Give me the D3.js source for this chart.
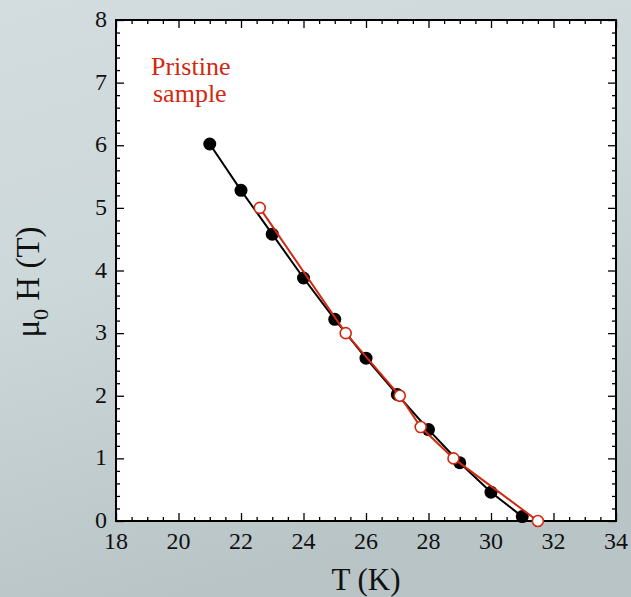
<!DOCTYPE html>
<html>
<head>
<meta charset="utf-8">
<script src="https://cdn.jsdelivr.net/npm/d3@7"></script>
<style>
  html, body { margin: 0; padding: 0; }
  svg { display: block; }
</style>
</head>
<body>
<svg id="chart" width="631" height="597"></svg>
<script>
const tempBlack = [21, 22, 23, 24, 25, 26, 27, 28, 29, 30, 31];
const fieldBlack = [6.02, 5.28, 4.58, 3.88, 3.22, 2.6, 2.02, 1.46, 0.93, 0.46, 0.07];
const tempRed = [22.6, 25.35, 27.08, 27.75, 28.8, 31.5];
const fieldRed = [5.0, 3.0, 2.0, 1.5, 1.0, 0.0];
const xTicks = [18, 20, 22, 24, 26, 28, 30, 32, 34];
const yTicks = [0, 1, 2, 3, 4, 5, 6, 7, 8];

const svg = d3.select("#chart");
const width = 631;
const height = 597;
const margin = { left: 116, right: 15, top: 20, bottom: 76 };
const plotW = width - margin.left - margin.right;
const plotH = height - margin.top - margin.bottom;
const red = "#d2280f";
const serif = "'Liberation Serif', 'Times New Roman', serif";

const defs = svg.append("defs");
const bg = defs.append("linearGradient")
  .attr("id", "bg")
  .attr("x1", "0%").attr("y1", "0%")
  .attr("x2", "30%").attr("y2", "100%");
bg.append("stop").attr("offset", "0%").attr("stop-color", "#d3dcde");
bg.append("stop").attr("offset", "45%").attr("stop-color", "#cdd8da");
bg.append("stop").attr("offset", "100%").attr("stop-color", "#b9c4c6");

svg.append("rect").attr("width", width).attr("height", height).attr("fill", "url(#bg)");

const x = d3.scaleLinear().domain([18, 34]).range([margin.left, margin.left + plotW]);
const y = d3.scaleLinear().domain([0, 8]).range([margin.top + plotH, margin.top]);

svg.append("rect")
  .attr("x", margin.left).attr("y", margin.top)
  .attr("width", plotW).attr("height", plotH)
  .attr("fill", "#fff");

// inward ticks on all four sides
const xMinor = d3.range(18, 34.01, 0.5).filter((d) => d % 2 !== 0);
const yMinor = d3.range(0, 8.01, 0.2).map((d) => +d.toFixed(1)).filter((d) => d % 1 !== 0);

function tickAxis(axisFn, scale, values, size, translate) {
  svg.append("g")
    .attr("transform", translate)
    .call(axisFn(scale).tickValues(values).tickSize(size).tickFormat(""))
    .call((g) => g.select(".domain").remove())
    .call((g) => g.selectAll("line").attr("stroke", "#000").attr("stroke-width", 1.3));
}

const bottomY = margin.top + plotH;
const rightX = margin.left + plotW;
tickAxis(d3.axisTop, x, xTicks, 8, `translate(0,${bottomY})`);
tickAxis(d3.axisTop, x, xMinor, 4, `translate(0,${bottomY})`);
tickAxis(d3.axisBottom, x, xTicks, 8, `translate(0,${margin.top})`);
tickAxis(d3.axisBottom, x, xMinor, 4, `translate(0,${margin.top})`);
tickAxis(d3.axisRight, y, yTicks, 8, `translate(${margin.left},0)`);
tickAxis(d3.axisRight, y, yMinor, 4, `translate(${margin.left},0)`);
tickAxis(d3.axisLeft, y, yTicks, 8, `translate(${rightX},0)`);
tickAxis(d3.axisLeft, y, yMinor, 4, `translate(${rightX},0)`);

svg.append("rect")
  .attr("x", margin.left).attr("y", margin.top)
  .attr("width", plotW).attr("height", plotH)
  .attr("fill", "none").attr("stroke", "#000").attr("stroke-width", 2);

// tick labels
svg.append("g").selectAll("text")
  .data(xTicks)
  .join("text")
  .attr("x", (d) => x(d))
  .attr("y", bottomY + 28)
  .attr("text-anchor", "middle")
  .attr("font-family", serif)
  .attr("font-size", 24)
  .attr("fill", "#111")
  .text((d) => d);

svg.append("g").selectAll("text")
  .data(yTicks)
  .join("text")
  .attr("x", margin.left - 9)
  .attr("y", (d) => y(d) + 7)
  .attr("text-anchor", "end")
  .attr("font-family", serif)
  .attr("font-size", 24)
  .attr("fill", "#111")
  .text((d) => d);

// axis titles
svg.append("text")
  .attr("x", margin.left + plotW / 2)
  .attr("y", 590)
  .attr("text-anchor", "middle")
  .attr("font-family", serif)
  .attr("font-size", 31)
  .attr("fill", "#111")
  .text("T (K)");

const yTitle = svg.append("text")
  .attr("transform", "translate(39,282) rotate(-90)")
  .attr("text-anchor", "middle")
  .attr("font-family", serif)
  .attr("font-size", 33)
  .attr("fill", "#111");
yTitle.append("tspan").text("μ");
yTitle.append("tspan").attr("dy", 9).attr("font-size", 22).text("0");
yTitle.append("tspan").attr("dy", -9).text(" H (T)");

// series
const blackData = tempBlack.map((t, i) => ({ t, h: fieldBlack[i] }));
const redData = tempRed.map((t, i) => ({ t, h: fieldRed[i] }));
const line = d3.line().x((d) => x(d.t)).y((d) => y(d.h));

svg.append("path")
  .datum(blackData)
  .attr("d", line)
  .attr("fill", "none")
  .attr("stroke", "#000")
  .attr("stroke-width", 2);

svg.append("g").selectAll("circle")
  .data(blackData)
  .join("circle")
  .attr("cx", (d) => x(d.t))
  .attr("cy", (d) => y(d.h))
  .attr("r", 6.5)
  .attr("fill", "#000");

svg.append("path")
  .datum(redData)
  .attr("d", line)
  .attr("fill", "none")
  .attr("stroke", red)
  .attr("stroke-width", 2);

svg.append("g").selectAll("circle")
  .data(redData)
  .join("circle")
  .attr("cx", (d) => x(d.t))
  .attr("cy", (d) => y(d.h))
  .attr("r", 5.5)
  .attr("fill", "#fff")
  .attr("stroke", red)
  .attr("stroke-width", 1.6);

// label
const label = svg.append("text")
  .attr("font-family", serif)
  .attr("font-size", 26)
  .attr("fill", red);
label.append("tspan").attr("x", 151).attr("y", 75).text("Pristine");
label.append("tspan").attr("x", 153).attr("y", 102).text("sample");
</script>
</body>
</html>
